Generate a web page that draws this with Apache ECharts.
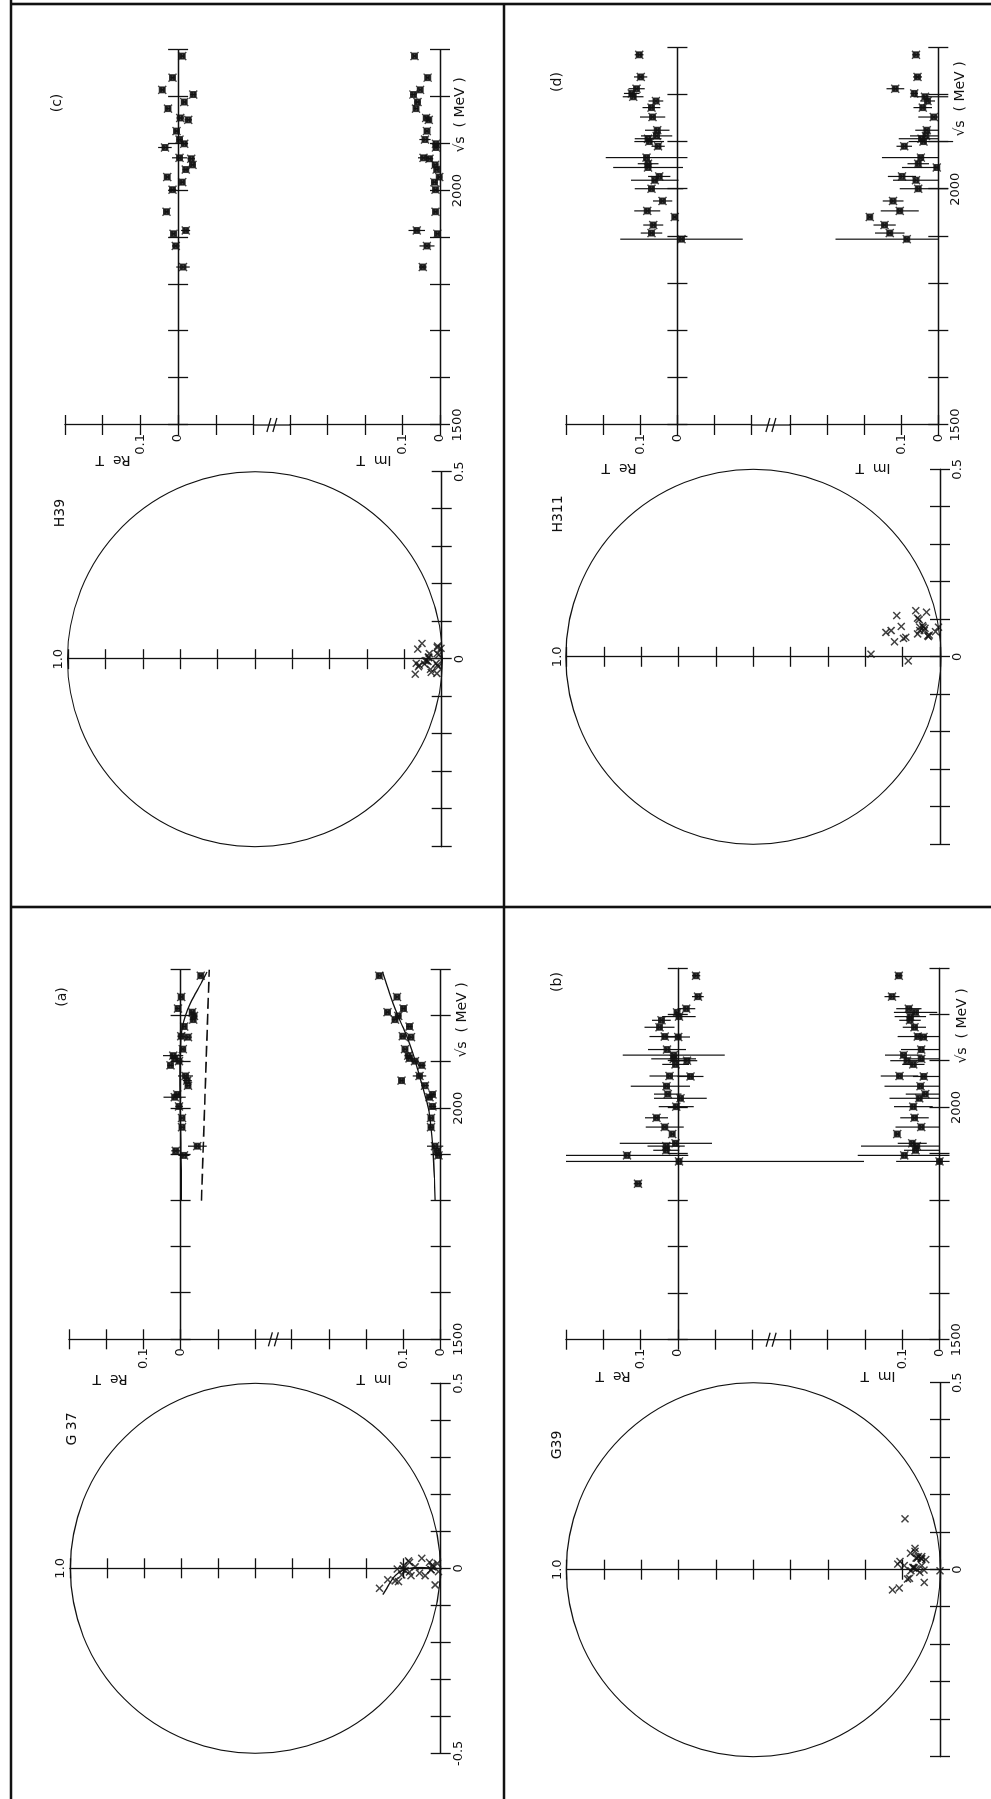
<!DOCTYPE html>
<html><head><meta charset="utf-8">
<script src="https://cdn.jsdelivr.net/npm/echarts@6.0.0/dist/echarts.min.js"></script>
<style>
html,body{margin:0;padding:0;background:#fff;width:991px;height:1799px;overflow:hidden;}
#rot{position:absolute;left:0;top:0;width:1799px;height:991px;transform-origin:0 0;transform:translate(0,1799px) rotate(-90deg);}
#chart{width:1799px;height:991px;background:#fff;}
</style></head><body>
<div id="rot"><div id="chart"></div></div>
<script>
// ---------------- DATA ----------------
// Panel (a) G37
const S_A = [2287, 2241, 2216, 2208, 2200, 2192, 2177, 2156, 2154, 2128, 2114, 2108, 2102, 2093, 2070, 2060, 2049, 2030, 2024, 2004, 1979, 1959, 1918, 1908, 1898];
const RE_A = [-0.054, -0.002, 0.007, -0.031, -0.036, -0.034, -0.010, -0.002, -0.020, -0.006, 0.020, 0.016, 0.004, 0.027, -0.013, -0.018, -0.020, 0.009, 0.016, 0.004, -0.004, -0.004, -0.045, 0.013, -0.009];
const RE_ERR_A = [0.005, 0.006, 0.008, 0.006, 0.006, 0.006, 0.006, 0.010, 0.010, 0.008, 0.027, 0.012, 0.012, 0.008, 0.020, 0.012, 0.008, 0.010, 0.030, 0.010, 0.008, 0.008, 0.025, 0.012, 0.015];
const IM_A = [0.165, 0.117, 0.100, 0.143, 0.114, 0.123, 0.084, 0.102, 0.080, 0.096, 0.087, 0.084, 0.069, 0.051, 0.057, 0.105, 0.042, 0.022, 0.030, 0.022, 0.026, 0.026, 0.015, 0.009, 0.006];
const IM_ERR_A = [0.005, 0.005, 0.006, 0.006, 0.008, 0.008, 0.008, 0.008, 0.008, 0.008, 0.010, 0.010, 0.010, 0.010, 0.018, 0.006, 0.010, 0.008, 0.008, 0.010, 0.008, 0.008, 0.022, 0.010, 0.010];
const CURVE_S_A = [1800, 1850, 1900, 1950, 2000, 2050, 2100, 2150, 2175, 2200, 2225, 2250, 2275, 2295];
const CURVE_RE_A = [-0.002, -0.002, -0.001, 0.000, 0.001, 0.002, 0.002, -0.001, -0.005, -0.013, -0.025, -0.041, -0.058, -0.071];
const CURVE_IM_A = [0.015, 0.017, 0.020, 0.025, 0.033, 0.050, 0.067, 0.088, 0.101, 0.115, 0.127, 0.138, 0.148, 0.156];
const DASH_S_A = [1800, 2300];
const DASH_RE_A = [-0.056, -0.077];

// Panel (b) G39
const S_B = [2284, 2239, 2213, 2205, 2196, 2188, 2173, 2153, 2152, 2125, 2113, 2105, 2101, 2093, 2068, 2067, 2046, 2029, 2020, 2002, 1978, 1958, 1943, 1923, 1917, 1908, 1897, 1884, 1836];
const RE_B = [-0.049, -0.054, -0.023, 0.002, -0.003, 0.044, 0.049, 0.035, -0.001, 0.029, 0.011, 0.011, -0.025, 0.006, 0.022, -0.034, 0.030, 0.027, -0.007, 0.004, 0.057, 0.035, 0.015, 0.006, 0.031, 0.031, 0.136, -0.003, 0.107];
const RE_ERR_B = [0.011, 0.016, 0.024, 0.005, 0.045, 0.025, 0.040, 0.041, 0.032, 0.051, 0.137, 0.060, 0.027, 0.036, 0.054, 0.035, [0.063, 0.096], 0.037, 0.071, 0.047, 0.031, 0.051, 0.006, [0.098, 0.150], 0.050, 0.035, 0.164, [0.497, 0.303], 0.011];
const IM_B = [0.109, 0.127, 0.082, 0.064, 0.078, 0.079, 0.067, 0.058, 0.043, 0.049, 0.096, 0.049, 0.087, 0.070, 0.107, 0.042, 0.051, 0.038, 0.054, 0.070, 0.067, 0.049, 0.113, 0.073, 0.061, 0.064, 0.094, 0.000, null];
const IM_ERR_B = [0.010, 0.020, 0.034, 0.058, 0.042, 0.029, 0.031, [0.058, 0.054], 0.010, [0.049, 0.054], 0.050, [0.049, 0.031], 0.045, 0.030, 0.050, [0.042, 0.029], [0.051, 0.096], [0.038, 0.052], [0.054, 0.080], 0.052, 0.038, [0.049, 0.069], 0.006, 0.039, [0.061, 0.149], [0.064, 0.031], [0.121, 0.125], [0.027, 0.116], null];

// Panel (c) H39
const S_C = [2287, 2241, 2215, 2205, 2189, 2175, 2155, 2151, 2127, 2109, 2100, 2092, 2070, 2068, 2055, 2045, 2029, 2018, 2002, 1955, 1915, 1908, 1882, 1837];
const RE_C = [-0.011, 0.015, 0.042, -0.040, -0.016, 0.027, -0.006, -0.027, 0.004, -0.004, -0.016, 0.035, -0.004, -0.035, -0.038, -0.020, 0.029, -0.011, 0.015, 0.031, -0.020, 0.012, 0.006, -0.013];
const RE_ERR_C = [0.006, 0.006, 0.006, 0.008, 0.006, 0.006, 0.010, 0.010, 0.006, 0.008, 0.008, 0.018, 0.020, 0.010, 0.008, 0.008, 0.006, 0.006, 0.010, 0.006, 0.012, 0.006, 0.010, 0.018];
const IM_C = [0.068, 0.033, 0.053, 0.071, 0.060, 0.064, 0.037, 0.030, 0.035, 0.040, 0.011, 0.011, 0.044, 0.028, 0.013, 0.009, 0.002, 0.015, 0.012, 0.012, 0.062, 0.007, 0.035, 0.046];
const IM_ERR_C = [0.005, 0.005, 0.005, 0.008, 0.008, 0.006, 0.006, 0.006, 0.006, 0.015, 0.006, 0.006, 0.015, 0.010, 0.008, 0.006, 0.008, 0.008, 0.006, 0.006, 0.022, 0.006, 0.020, 0.010];

// Panel (d) H311
const S_D = [2285, 2238, 2213, 2203, 2196, 2187, 2173, 2153, 2125, 2113, 2107, 2101, 2091, 2067, 2054, 2046, 2027, 2019, 2001, 1975, 1954, 1941, 1924, 1907, 1894];
const RE_D = [0.103, 0.099, 0.110, 0.123, 0.119, 0.058, 0.070, 0.067, 0.054, 0.056, 0.079, 0.076, 0.052, 0.083, 0.079, 0.079, 0.049, 0.061, 0.070, 0.040, 0.081, 0.007, 0.065, 0.070, -0.011];
const RE_ERR_D = [0.012, 0.018, 0.022, 0.021, 0.028, 0.020, 0.024, 0.034, 0.033, 0.042, 0.036, 0.040, 0.018, 0.110, 0.028, 0.094, 0.030, 0.064, [0.086, 0.045], 0.026, 0.035, 0.005, 0.027, 0.029, 0.165];
const IM_D = [0.060, 0.056, 0.116, 0.065, 0.036, 0.029, 0.042, 0.012, 0.031, 0.033, 0.045, 0.040, 0.092, 0.047, 0.054, 0.004, 0.098, 0.060, 0.054, 0.122, 0.104, 0.185, 0.145, 0.131, 0.085];
const IM_ERR_D = [0.010, 0.012, 0.024, 0.010, [0.063, 0.031], 0.020, 0.025, [0.012, 0.042], 0.031, [0.033, 0.043], [0.045, 0.062], [0.080, 0.040], 0.021, [0.047, 0.105], 0.029, [0.004, 0.094], 0.038, [0.060, 0.062], [0.081, 0.050], 0.028, 0.051, 0.006, 0.030, 0.040, [0.085, 0.192]];

// Labels / ticks
const PANEL_KEYS = ['a', 'b', 'c', 'd'];
const PANEL_LETTERS = { a: '(a)', b: '(b)', c: '(c)', d: '(d)' };
const WAVE_LABELS = { a: 'G 37', b: 'G39', c: 'H39', d: 'H311' };
const CIRCLE_RE_LABELS = { a: [-0.5, 0, 0.5], b: [0, 0.5], c: [0, 0.5], d: [0, 0.5] };
const CIRCLE_IM_END_LABEL = '1.0';
const STRIP_T_LABELS = [0, 0.1];
const SQRT_S_LABELS = [1500, 2000];
const SQRT_S_TITLE = '\u221As  ( MeV )';
const RE_T_TITLE = 'Re  T';
const IM_T_TITLE = 'Im  T';
const UNITARITY_CENTER = [0, 0.5];
const UNITARITY_RADIUS = 0.5;

// ---------------- LAYOUT (page drawn upright, then the page is turned) ----------------
const LAYOUT = {
  a: { circle: [45.7, 70, 370, 370.7], re: [459.7, 69, 369.6, 186], im: [459.7, 291.7, 369.6, 149],
       letter: [802, 62], wave: [370, 72], sqrtS: [779, 462], reT: [420, 110], imT: [420, 374] },
  b: { circle: [42.3, 566.7, 374, 373.3], re: [459.3, 566, 371.4, 186.3], im: [459.3, 790, 371.4, 149.5],
       letter: [817, 557], wave: [354, 557], sqrtS: [773, 962], reT: [423, 613], imT: [423, 878] },
  c: { circle: [952.3, 68.3, 375, 373.4], re: [1374, 65, 375, 188.5], im: [1374, 290, 375, 150],
       letter: [1696, 57], wave: [1286, 60], sqrtS: [1684, 460], reT: [1339, 113], imT: [1339, 374] },
  d: { circle: [954.7, 566.7, 375, 373.3], re: [1374, 566, 377.3, 185.7], im: [1374, 790, 377.3, 148.3],
       letter: [1717, 557], wave: [1285, 558], sqrtS: [1700, 960], reT: [1331, 619], imT: [1331, 873] }
};
const DATA = {
  a: { s: S_A, re: RE_A, reErr: RE_ERR_A, im: IM_A, imErr: IM_ERR_A },
  b: { s: S_B, re: RE_B, reErr: RE_ERR_B, im: IM_B, imErr: IM_ERR_B },
  c: { s: S_C, re: RE_C, reErr: RE_ERR_C, im: IM_C, imErr: IM_ERR_C },
  d: { s: S_D, re: RE_D, reErr: RE_ERR_D, im: IM_D, imErr: IM_ERR_D }
};

const INK = '#111';
const FONT = 'DejaVu Sans';
const AX_LINE = { color: INK, width: 1.3 };
const STRIP_SYMBOL = 'path://M0,0L10,10M10,0L0,10M1.5,1.5L8.5,1.5L8.5,8.5L1.5,8.5Z';
const CROSS_SYMBOL = 'path://M0,0L10,10M10,0L0,10';

function numText(t) { return Math.abs(t) < 1e-9 ? '0' : String(t); }
function mkFormatter(vals) {
  return function (v) {
    for (let i = 0; i < vals.length; i++) if (Math.abs(v - vals[i]) < 1e-6) return numText(vals[i]);
    return '';
  };
}

const grids = [], xAxes = [], yAxes = [], series = [], graphics = [];
function mkGrid(r) { grids.push({ left: r[0], top: r[1], width: r[2], height: r[3], show: false }); return grids.length - 1; }

function addAxes(list, dim, gi, min, max, interval, labels, onZeroIdx, extra) {
  const common = { gridIndex: gi, type: 'value', min: min, max: max, interval: interval,
    position: dim === 'x' ? 'bottom' : 'left', splitLine: { show: false }, axisPointer: { show: false } };
  const line = { show: true, onZero: onZeroIdx != null, lineStyle: AX_LINE };
  if (onZeroIdx != null) line.onZeroAxisIndex = onZeroIdx;
  const main = Object.assign({}, common, {
    axisLine: line,
    axisTick: { show: true, inside: false, length: 10, lineStyle: AX_LINE },
    axisLabel: labels ? { show: true, formatter: mkFormatter(labels), margin: dim === 'x' ? 11 : 9,
      color: INK, fontFamily: FONT, fontSize: 13 } : { show: false }
  }, extra || {});
  const copyLine = { show: false, onZero: onZeroIdx != null };
  if (onZeroIdx != null) copyLine.onZeroAxisIndex = onZeroIdx;
  const copy = Object.assign({}, common, {
    axisLine: copyLine,
    axisTick: { show: true, inside: true, length: 10, lineStyle: AX_LINE },
    axisLabel: { show: false }
  });
  list.push(main, copy);
}

function errSeries(ai, s, v, err) {
  const data = [];
  s.forEach(function (sv, i) {
    if (v[i] == null || err[i] == null) return;
    const e = Array.isArray(err[i]) ? err[i] : [err[i], err[i]];
    data.push([sv, v[i], e[0], e[1]]);
  });
  return { type: 'custom', xAxisIndex: ai, yAxisIndex: ai, clip: false, silent: true, z: 2, data: data,
    renderItem: function (params, api) {
      const a = api.coord([api.value(0), api.value(1) - api.value(2)]);
      const b = api.coord([api.value(0), api.value(1) + api.value(3)]);
      return { type: 'line', shape: { x1: a[0], y1: a[1], x2: b[0], y2: b[1] }, style: { stroke: INK, lineWidth: 1.2 } };
    } };
}
function pointSeries(ai, data, symbol, size, bw) {
  return { type: 'scatter', xAxisIndex: ai, yAxisIndex: ai, data: data, symbol: symbol, symbolSize: size,
    silent: true, z: 3, clip: false, itemStyle: { color: INK, borderColor: INK, borderWidth: bw } };
}
function lineSeries(ai, xs, ys, dashed) {
  return { type: 'line', xAxisIndex: ai, yAxisIndex: ai, data: xs.map(function (x, i) { return [x, ys[i]]; }),
    smooth: dashed ? false : 0.35, showSymbol: false, silent: true, z: 2,
    lineStyle: { color: INK, width: dashed ? 1.6 : 1.3, type: dashed ? [11, 5] : 'solid' } };
}
function txt(x, y, text, size, rot) {
  return { type: 'text', x: x, y: y, rotation: rot || 0, silent: true,
    style: { text: text, fill: INK, fontFamily: FONT, fontSize: size, textAlign: 'center', textVerticalAlign: 'middle', verticalAlign: 'middle' } };
}
function seg(x1, y1, x2, y2, w) {
  return { type: 'line', silent: true, shape: { x1: x1, y1: y1, x2: x2, y2: y2 }, style: { stroke: INK, lineWidth: w } };
}

PANEL_KEYS.forEach(function (key) {
  const L = LAYOUT[key], P = DATA[key];
  const gC = mkGrid(L.circle), gR = mkGrid(L.re), gI = mkGrid(L.im);
  const aC = 2 * gC, aR = 2 * gR, aI = 2 * gI;

  // Argand diagram axes
  addAxes(xAxes, 'x', gC, -0.5, 0.5, 0.1, CIRCLE_RE_LABELS[key], null);
  addAxes(yAxes, 'y', gC, 0, 1, 0.1, null, aC, { name: CIRCLE_IM_END_LABEL, nameLocation: 'end', nameGap: 3,
    nameTextStyle: { color: INK, fontFamily: FONT, fontSize: 13 } });
  // Re T strip
  addAxes(xAxes, 'x', gR, 1500, 2300, 100, null, aR);
  addAxes(yAxes, 'y', gR, -0.2, 0.3, 0.1, STRIP_T_LABELS, null);
  // Im T strip
  addAxes(xAxes, 'x', gI, 1500, 2300, 100, SQRT_S_LABELS, null);
  addAxes(yAxes, 'y', gI, 0, 0.4, 0.1, STRIP_T_LABELS, null);

  // unitarity circle
  series.push({ type: 'custom', xAxisIndex: aC, yAxisIndex: aC, clip: false, silent: true, z: 1,
    data: [[UNITARITY_CENTER[0], UNITARITY_CENTER[1], UNITARITY_RADIUS]],
    renderItem: function (params, api) {
      const c = api.coord([api.value(0), api.value(1)]);
      const e = api.coord([api.value(0) + api.value(2), api.value(1)]);
      return { type: 'circle', shape: { cx: c[0], cy: c[1], r: Math.abs(e[0] - c[0]) },
        style: { fill: 'none', stroke: INK, lineWidth: 1.1 } };
    } });
  // Argand points
  const argand = [];
  P.re.forEach(function (r, i) { if (r != null && P.im[i] != null) argand.push([r, P.im[i]]); });
  series.push(pointSeries(aC, argand, CROSS_SYMBOL, 7, 1.5));

  // strips
  series.push(errSeries(aR, P.s, P.re, P.reErr));
  series.push(errSeries(aI, P.s, P.im, P.imErr));
  series.push(pointSeries(aR, P.s.map(function (s, i) { return [s, P.re[i]]; }).filter(function (d) { return d[1] != null; }), STRIP_SYMBOL, 8, 1.4));
  series.push(pointSeries(aI, P.s.map(function (s, i) { return [s, P.im[i]]; }).filter(function (d) { return d[1] != null; }), STRIP_SYMBOL, 8, 1.4));

  if (key === 'a') {
    series.push(lineSeries(aR, CURVE_S_A, CURVE_RE_A, false));
    series.push(lineSeries(aR, DASH_S_A, DASH_RE_A, true));
    series.push(lineSeries(aI, CURVE_S_A, CURVE_IM_A, false));
    series.push(lineSeries(aC, CURVE_RE_A, CURVE_IM_A, false));
  }

  // axis break between Re and Im strips
  const ax = L.re[0], y1 = L.re[1] + L.re[3], y2 = L.im[1], ym = (y1 + y2) / 2;
  graphics.push(seg(ax, y1, ax, y2, 1.3));
  graphics.push(seg(ax - 7, ym - 5, ax + 7, ym - 1, 1.3));
  graphics.push(seg(ax - 7, ym + 1, ax + 7, ym + 5, 1.3));

  // texts
  graphics.push(txt(L.letter[0], L.letter[1], PANEL_LETTERS[key], 14, 0));
  graphics.push(txt(L.wave[0], L.wave[1], WAVE_LABELS[key], 14, 0));
  graphics.push(txt(L.sqrtS[0], L.sqrtS[1], SQRT_S_TITLE, 14, 0));
  graphics.push(txt(L.reT[0], L.reT[1], RE_T_TITLE, 14, Math.PI / 2));
  graphics.push(txt(L.imT[0], L.imT[1], IM_T_TITLE, 14, Math.PI / 2));
});

// frame lines
graphics.push(seg(0, 11, 1799, 11, 2.6));
graphics.push(seg(1795, 11, 1795, 991, 2.6));
graphics.push(seg(0, 504, 1795, 504, 2.6));
graphics.push(seg(892, 11, 892, 991, 2.6));

const chart = echarts.init(document.getElementById('chart'), null, { renderer: 'canvas', width: 1799, height: 991 });
chart.setOption({
  animation: false,
  backgroundColor: '#fff',
  grid: grids,
  xAxis: xAxes,
  yAxis: yAxes,
  series: series,
  graphic: { elements: graphics }
});
</script>
</body></html>
